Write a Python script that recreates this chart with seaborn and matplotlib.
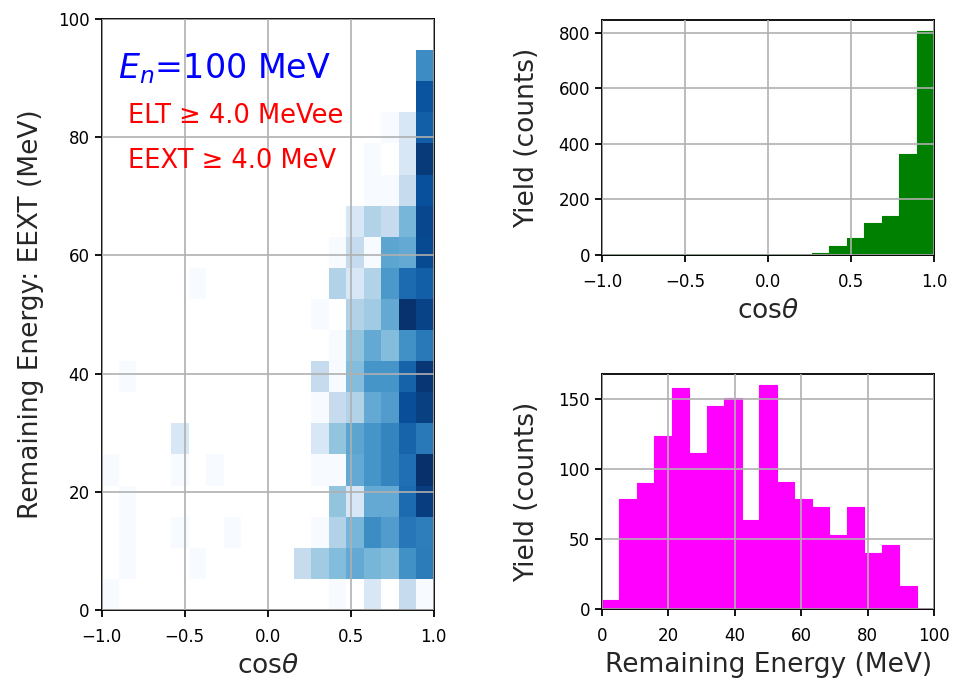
import numpy as np
import pandas as pd
import matplotlib
matplotlib.use("Agg")
import matplotlib.pyplot as plt
import seaborn as sns
from matplotlib.colors import LogNorm

# ---------------- data ----------------
n_bins = 19
cos_range = (-1.0, 1.0)
energy_range = (0.0, 100.0)
cos_edges = np.linspace(cos_range[0], cos_range[1], n_bins + 1)
energy_edges = np.linspace(energy_range[0], energy_range[1], n_bins + 1)

# yield per cos(theta) bin (top right)
cos_counts = [0, 0, 0, 0, 0, 0, 0, 0, 0, 0, 0, 1, 8, 32, 61, 114, 141, 363, 805]
# yield per remaining-energy bin (bottom right)
energy_counts = [7, 79, 90, 124, 158, 112, 145, 151, 64, 160, 91, 79, 73, 53, 73, 40, 46, 17, 0]

# 2D counts: one list per energy bin (bottom -> top), 19 cos bins each (left -> right)
counts_2d = [
    [1, 0, 0, 0, 0, 0, 0, 0, 0, 0, 0, 0, 0, 1, 0, 2, 0, 3, 1],
    [0, 1, 0, 0, 0, 1, 0, 0, 0, 0, 0, 3, 5, 7, 10, 8, 7, 16, 23],
    [0, 1, 0, 0, 1, 0, 0, 1, 0, 0, 0, 0, 1, 4, 8, 17, 13, 25, 22],
    [0, 1, 0, 0, 0, 0, 0, 0, 0, 0, 0, 0, 0, 6, 2, 10, 10, 30, 66],
    [1, 0, 0, 0, 1, 0, 1, 0, 0, 0, 0, 0, 1, 1, 10, 15, 20, 28, 83],
    [0, 0, 0, 0, 2, 0, 0, 0, 0, 0, 0, 0, 2, 6, 11, 15, 20, 34, 24],
    [0, 0, 0, 0, 0, 0, 0, 0, 0, 0, 0, 0, 1, 3, 4, 10, 13, 50, 64],
    [0, 1, 0, 0, 0, 0, 0, 0, 0, 0, 0, 0, 3, 1, 7, 15, 15, 35, 75],
    [0, 0, 0, 0, 0, 0, 0, 0, 0, 0, 0, 0, 0, 1, 6, 10, 7, 16, 24],
    [0, 0, 0, 0, 0, 0, 0, 0, 0, 0, 0, 0, 1, 0, 4, 5, 10, 80, 60],
    [0, 0, 0, 0, 0, 1, 0, 0, 0, 0, 0, 0, 0, 4, 2, 4, 14, 30, 37],
    [0, 0, 0, 0, 0, 0, 0, 0, 0, 0, 0, 0, 0, 1, 3, 1, 11, 10, 53],
    [0, 0, 0, 0, 0, 0, 0, 0, 0, 0, 0, 0, 0, 0, 2, 4, 3, 8, 56],
    [0, 0, 0, 0, 0, 0, 0, 0, 0, 0, 0, 0, 0, 0, 0, 1, 1, 3, 48],
    [0, 0, 0, 0, 0, 0, 0, 0, 0, 0, 0, 0, 0, 0, 0, 1, 0, 2, 70],
    [0, 0, 0, 0, 0, 0, 0, 0, 0, 0, 0, 0, 0, 0, 0, 0, 1, 2, 37],
    [0, 0, 0, 0, 0, 0, 0, 0, 0, 0, 0, 0, 0, 0, 0, 0, 0, 0, 46],
    [0, 0, 0, 0, 0, 0, 0, 0, 0, 0, 0, 0, 0, 0, 0, 0, 0, 0, 17],
    [0, 0, 0, 0, 0, 0, 0, 0, 0, 0, 0, 0, 0, 0, 0, 0, 0, 0, 0],
]

cos_ticks = [-1.0, -0.5, 0.0, 0.5, 1.0]
cos_ticklabels = ["\u22121.0", "\u22120.5", "0.0", "0.5", "1.0"]
energy_ticks = [0, 20, 40, 60, 80, 100]
cos_yticks = [0, 200, 400, 600, 800]
energy_yticks = [0, 50, 100, 150]

# ---------------- style ----------------
sns.set_style("ticks")
plt.rcParams["font.family"] = ["DejaVu Sans"]
plt.rcParams["axes.unicode_minus"] = True

TICK_FS = 12
LABEL_FS = 19

fig = plt.figure(figsize=(9.58, 6.83), dpi=100)
ax0 = fig.add_axes([0.1060, 0.1069, 0.3466, 0.8653])
ax1 = fig.add_axes([0.6284, 0.6266, 0.3469, 0.3441])
ax2 = fig.add_axes([0.6284, 0.1079, 0.3469, 0.3441])

xc = (cos_edges[:-1] + cos_edges[1:]) / 2
yc = (energy_edges[:-1] + energy_edges[1:]) / 2

# ---- 2D histogram ----
X, Y = np.meshgrid(xc, yc)
W = np.array(counts_2d, dtype=float)
df2 = pd.DataFrame({"cos": X.ravel(), "energy": Y.ravel(), "n": W.ravel()})
sns.histplot(data=df2, x="cos", y="energy", weights="n",
             bins=n_bins, binrange=[cos_range, energy_range],
             cmap="Blues", ax=ax0)
mesh = ax0.collections[0]
mesh.set_norm(LogNorm(vmin=1, vmax=W.max()))

ax0.set_xlim(-1, 1)
ax0.set_ylim(0, 100)
ax0.set_xticks(cos_ticks)
ax0.set_xticklabels(cos_ticklabels)
ax0.set_yticks(energy_ticks)
ax0.set_xlabel(r"cos$\theta$", fontsize=LABEL_FS, labelpad=5)
ax0.set_ylabel("Remaining Energy: EEXT (MeV)", fontsize=LABEL_FS, labelpad=10)

ax0.text(0.05, 0.90, r"$E_n$=100 MeV", transform=ax0.transAxes,
         color="blue", fontsize=24, ha="left", va="baseline")
ax0.text(0.08, 0.836, "ELT \u2265 4.0 MeVee", transform=ax0.transAxes,
         color="red", fontsize=18.5, ha="left", va="center")
ax0.text(0.08, 0.760, "EEXT \u2265 4.0 MeV", transform=ax0.transAxes,
         color="red", fontsize=18.5, ha="left", va="center")

# ---- cos theta yield ----
df_cos = pd.DataFrame({"cos": xc, "n": cos_counts})
sns.histplot(data=df_cos, x="cos", weights="n", bins=n_bins, binrange=cos_range,
             element="step", fill=True, color="green", edgecolor="green",
             alpha=1.0, linewidth=0.8, ax=ax1)
ax1.set_xlim(-1, 1)
ax1.set_xticks(cos_ticks)
ax1.set_xticklabels(cos_ticklabels)
ax1.set_yticks(cos_yticks)
ax1.set_xlabel(r"cos$\theta$", fontsize=LABEL_FS, labelpad=5)
ax1.set_ylabel("Yield (counts)", fontsize=LABEL_FS, labelpad=13)

# ---- remaining energy yield ----
df_e = pd.DataFrame({"energy": yc, "n": energy_counts})
sns.histplot(data=df_e, x="energy", weights="n", bins=n_bins, binrange=energy_range,
             element="step", fill=True, color="magenta", edgecolor="magenta",
             alpha=1.0, linewidth=0.8, ax=ax2)
ax2.set_xlim(0, 100)
ax2.set_xticks(energy_ticks)
ax2.set_yticks(energy_yticks)
ax2.set_xlabel("Remaining Energy (MeV)", fontsize=LABEL_FS, labelpad=5)
ax2.set_ylabel("Yield (counts)", fontsize=LABEL_FS, labelpad=13)

for ax in (ax0, ax1, ax2):
    ax.grid(True, color="#b0b0b0", linewidth=1.2)
    ax.set_axisbelow(False)
    for s in ax.spines.values():
        s.set_visible(True)
        s.set_color("black")
        s.set_linewidth(1.3)
    ax.tick_params(direction="out", length=5, width=1.3, labelsize=TICK_FS,
                   colors="black")
    ax.tick_params(axis="x", pad=8)

fig.savefig("out.png", dpi=100)
